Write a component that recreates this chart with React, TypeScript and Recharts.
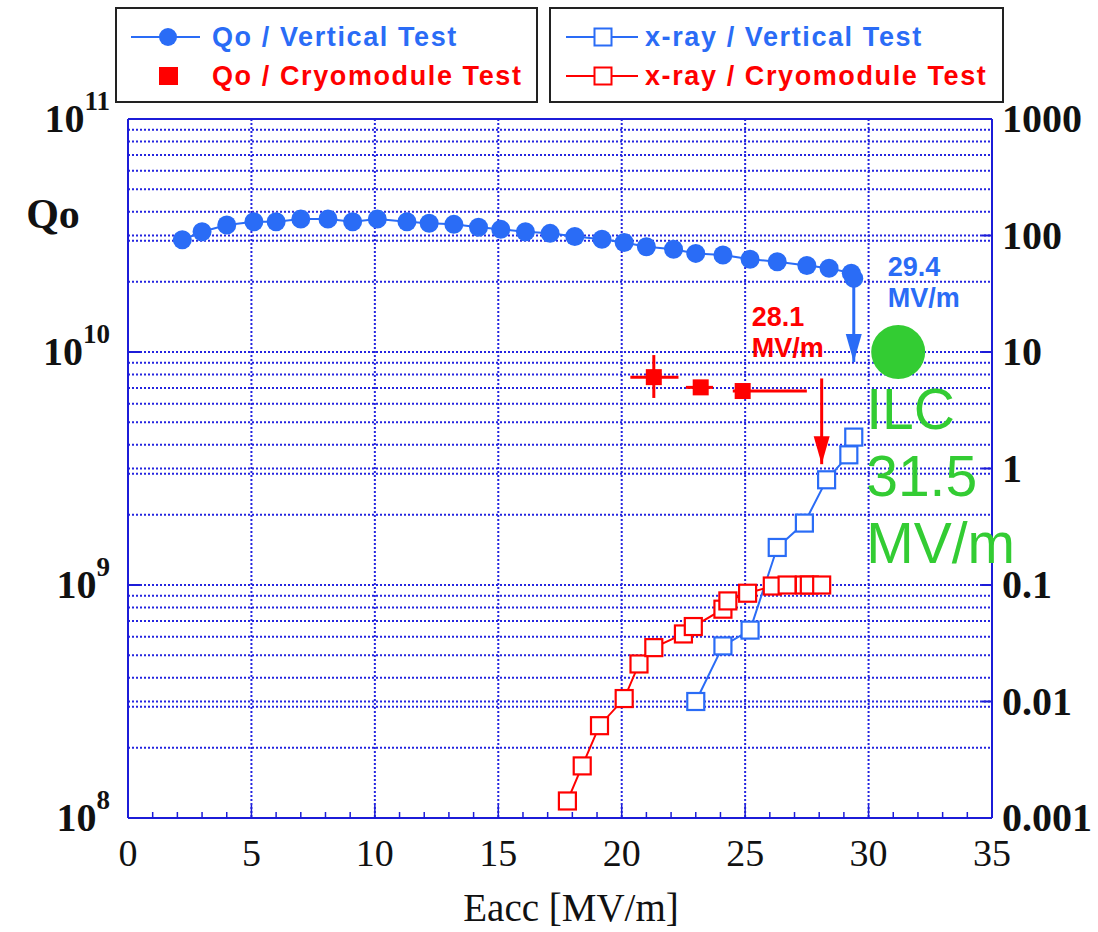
import React from 'react';
import {
  ComposedChart, Line, Scatter, XAxis, YAxis, CartesianGrid, ReferenceLine, ReferenceDot, ErrorBar, Label,
} from 'recharts';

const BLUE = '#2a6cf6';
const RED = '#ff0000';
const GREEN = '#33cc33';
const FRAME = '#1c1cd8';
const GRID = '#2424e0';
const SERIF = "'Liberation Serif', 'Times New Roman', serif";
const SANS = "'Liberation Sans', Arial, sans-serif";

// Qo / Vertical Test (left axis)
const qoVertE = [2.2, 3.0, 4.0, 5.1, 6.0, 7.0, 8.1, 9.1, 10.1, 11.3, 12.2, 13.2, 14.2, 15.1, 16.1, 17.1, 18.1, 19.2, 20.1, 21.0, 22.1, 23.0, 24.1, 25.2, 26.3, 27.5, 28.4, 29.3, 29.4];
const qoVertQ = [3.03e10, 3.28e10, 3.51e10, 3.62e10, 3.62e10, 3.72e10, 3.72e10, 3.62e10, 3.72e10, 3.62e10, 3.57e10, 3.53e10, 3.43e10, 3.36e10, 3.28e10, 3.23e10, 3.13e10, 3.05e10, 2.95e10, 2.83e10, 2.76e10, 2.65e10, 2.61e10, 2.5e10, 2.44e10, 2.35e10, 2.29e10, 2.18e10, 2.07e10];

// Qo / Cryomodule Test (left axis), with error bars
const qoCryoE = [21.3, 23.2, 24.9];
const qoCryoQ = [7.8e9, 7.05e9, 6.8e9];
const qoCryoErrE = [[0.95, 1.0], [0.6, 0.5], [0.4, 2.6]];
const qoCryoErrQ = [[1.45e9, 1.9e9], [0, 0], [0, 0]];

// x-ray / Vertical Test (right axis)
const xrVertE = [23.0, 24.1, 25.2, 26.3, 27.4, 28.3, 29.2, 29.4];
const xrVertDose = [0.01, 0.03, 0.041, 0.21, 0.34, 0.8, 1.31, 1.86];

// x-ray / Cryomodule Test (right axis)
const xrCryoE = [17.8, 18.4, 19.1, 20.1, 20.7, 21.3, 22.5, 22.9, 24.1, 24.3, 25.1, 26.1, 26.7, 27.4, 27.6, 28.1];
const xrCryoDose = [0.0014, 0.0028, 0.0062, 0.0106, 0.021, 0.029, 0.038, 0.044, 0.062, 0.073, 0.085, 0.098, 0.1, 0.1, 0.1, 0.1];

// annotations
const vertLimit = { e: 29.4, from: 2.07e10, to: 9.06e9, lines: ['29.4', 'MV/m'] };
const cryoLimit = { e: 28.1, from: 7.7e9, to: 3.3e9, lines: ['28.1', 'MV/m'] };
const ilcGoal = { e: 31.2, q: 1e10, lines: ['ILC', '31.5', 'MV/m'] };

// ticks / grid
const eTicks = Array.from({ length: 36 }, (_, i) => i);
const eGridValues = [5, 10, 15, 20, 25, 30];
const qoTicks = [1e8, 1e9, 1e10, 1e11];
const qoGridValues = [1e8, 1e9, 1e10].flatMap(d => [1, 2, 3, 4, 5, 6, 7, 8, 9].map(k => k * d)).filter(v => v > 1e8);
const doseTicks = [0.001, 0.01, 0.1, 1, 10, 100, 1000];
const doseGridValues = [0.01, 1, 100];

const qoVert = qoVertE.map((x, i) => ({ x, y: qoVertQ[i] }));
const qoCryo = qoCryoE.map((x, i) => ({ x, y: qoCryoQ[i], ex: qoCryoErrE[i], ey: qoCryoErrQ[i] }));
const xrVert = xrVertE.map((x, i) => ({ x, y: xrVertDose[i] }));
const xrCryo = xrCryoE.map((x, i) => ({ x, y: xrCryoDose[i] }));

const ETick = (p: any) => {
  const v = p.payload.value;
  const major = v % 5 === 0;
  return (
    <g>
      <line x1={p.x} x2={p.x} y1={p.y} y2={p.y - (major ? 13 : 6)} stroke={FRAME} strokeWidth={1.5} />
      {major && (
        <text x={p.x} y={p.y + 48} textAnchor="middle" fontFamily={SERIF} fontSize={38} fill="#111">{v}</text>
      )}
    </g>
  );
};

const QoTick = (p: any) => {
  const exp = Math.round(Math.log10(p.payload.value));
  return (
    <g>
      <line x1={p.x} x2={p.x + 12} y1={p.y} y2={p.y} stroke={FRAME} strokeWidth={2} />
      <text x={p.x - 18} y={p.y + 13} textAnchor="end" fontFamily={SERIF} fontWeight="bold" fontSize={40} fill="#111">
        10<tspan dy={-22} fontSize={27}>{exp}</tspan>
      </text>
    </g>
  );
};

const DoseTick = (p: any) => (
  <g>
    <line x1={p.x} x2={p.x - 10} y1={p.y} y2={p.y} stroke={FRAME} strokeWidth={2} />
    <text x={p.x + 10} y={p.y + 13} fontFamily={SERIF} fontWeight="bold" fontSize={40} fill="#111">{String(p.payload.value)}</text>
  </g>
);

const qoDot = (p: any) => <circle key={`qv-${p.index}`} cx={p.cx} cy={p.cy} r={9.5} fill={BLUE} />;
const openSquare = (color: string, tag: string) => (p: any) => (
  <rect key={`${tag}-${p.index}`} x={p.cx - 8.5} y={p.cy - 8.5} width={17} height={17} fill="#fff" stroke={color} strokeWidth={2.2} />
);
const cryoSquare = (p: any) => <rect x={p.cx - 8} y={p.cy - 8} width={16} height={16} fill={RED} />;

const arrowHead = (color: string) => (p: any) => (
  <polygon points={`${p.cx - 8},${p.cy - 28} ${p.cx + 8},${p.cy - 28} ${p.cx},${p.cy}`} fill={color} />
);

const limitText = (color: string, lines: string[], dx: number, dy: number) => (p: any) => (
  <text x={p.cx + dx} y={p.cy + dy} fill={color} fontFamily={SANS} fontWeight="bold" fontSize={27}>
    <tspan x={p.cx + dx}>{lines[0]}</tspan>
    <tspan x={p.cx + dx} dy={31}>{lines[1]}</tspan>
  </text>
);

const ilcShape = (p: any) => (
  <g>
    <circle cx={p.cx} cy={p.cy} r={27} fill={GREEN} />
    <text fill={GREEN} fontFamily={SANS} fontSize={57}>
      {ilcGoal.lines.map((t, i) => (
        <tspan key={t} x={p.cx - 32} y={p.cy + 77 + i * 67}>{t}</tspan>
      ))}
    </text>
  </g>
);

const eTitle = (p: any) => {
  const vb = p.viewBox;
  return (
    <text x={vb.x + vb.width / 2 + 11} y={vb.y + 103} textAnchor="middle" fontFamily={SERIF} fontSize={39} fill="#111">
      Eacc [MV/m]
    </text>
  );
};

const qoTitle = (p: any) => {
  const vb = p.viewBox;
  return (
    <text x={vb.x + 35} y={vb.y + 109} textAnchor="middle" fontFamily={SERIF} fontWeight="bold" fontSize={42} fill="#111">
      Qo
    </text>
  );
};

const LegendBoxes = () => (
  <svg width={1098} height={110} style={{ position: 'absolute', left: 0, top: 0 }}>
    <g fontFamily={SANS} fontWeight="bold" fontSize={27} letterSpacing={1.6}>
      <rect x={116} y={8} width={421} height={94} fill="#fff" stroke="#222" strokeWidth={2} />
      <line x1={131} x2={200} y1={37} y2={37} stroke={BLUE} strokeWidth={2} />
      <circle cx={168} cy={37} r={9} fill={BLUE} />
      <text x={212} y={46} fill={BLUE}>Qo / Vertical Test</text>
      <rect x={159} y={67} width={19} height={18} fill={RED} />
      <text x={212} y={85} fill={RED}>Qo / Cryomodule Test</text>

      <rect x={550} y={8} width={453} height={94} fill="#fff" stroke="#222" strokeWidth={2} />
      <line x1={566} x2={638} y1={37} y2={37} stroke={BLUE} strokeWidth={2} />
      <rect x={594.5} y={28.5} width={17} height={17} fill="#fff" stroke={BLUE} strokeWidth={2} />
      <text x={645} y={46} fill={BLUE}>x-ray / Vertical Test</text>
      <line x1={566} x2={638} y1={76} y2={76} stroke={RED} strokeWidth={2} />
      <rect x={594.5} y={67.5} width={17} height={17} fill="#fff" stroke={RED} strokeWidth={2} />
      <text x={645} y={85} fill={RED}>x-ray / Cryomodule Test</text>
    </g>
  </svg>
);

const App: React.FC = () => {
  const frame = { stroke: FRAME, strokeWidth: 2 };
  return (
    <div style={{ position: 'relative', width: 1098, height: 932, background: '#fff' }}>
      <style>{'body{margin:0;overflow:hidden;}'}</style>
      <ComposedChart width={1098} height={932} margin={{ top: 119, right: 6, bottom: 14, left: 18 }}>
        <CartesianGrid yAxisId="left" horizontalValues={qoGridValues} verticalValues={eGridValues}
          stroke={GRID} strokeDasharray="2 2" strokeWidth={2} />
        <CartesianGrid yAxisId="right" vertical={false} horizontalValues={doseGridValues}
          stroke={GRID} strokeDasharray="2 2" strokeWidth={2} />

        <XAxis type="number" dataKey="x" domain={[0, 35]} ticks={eTicks} interval={0} allowDataOverflow
          tick={ETick} tickLine={false} tickSize={0} tickMargin={0} axisLine={frame} height={100}>
          <Label content={eTitle} />
        </XAxis>
        <YAxis yAxisId="left" type="number" dataKey="y" scale="log" domain={[1e8, 1e11]} ticks={qoTicks} interval={0}
          allowDataOverflow tick={QoTick} tickLine={false} tickSize={0} tickMargin={0} axisLine={frame} width={110}>
          <Label content={qoTitle} />
        </YAxis>
        <YAxis yAxisId="right" orientation="right" type="number" dataKey="y" scale="log" domain={[0.001, 1000]}
          ticks={doseTicks} interval={0} allowDataOverflow tick={DoseTick} tickLine={false} tickSize={0} tickMargin={0}
          axisLine={frame} width={100} />

        <ReferenceLine yAxisId="left" y={1e11} stroke={FRAME} strokeWidth={2} />

        <Line yAxisId="right" data={xrVert} dataKey="y" type="linear" stroke={BLUE} strokeWidth={2}
          dot={openSquare(BLUE, 'xv')} activeDot={false} isAnimationActive={false} />
        <Line yAxisId="right" data={xrCryo} dataKey="y" type="linear" stroke={RED} strokeWidth={2}
          dot={openSquare(RED, 'xc')} activeDot={false} isAnimationActive={false} />
        <Line yAxisId="left" data={qoVert} dataKey="y" type="linear" stroke={BLUE} strokeWidth={2}
          dot={qoDot} activeDot={false} isAnimationActive={false} />
        <Scatter yAxisId="left" data={qoCryo} dataKey="y" fill={RED} shape={cryoSquare} isAnimationActive={false}>
          <ErrorBar dataKey="ex" direction="x" width={0} stroke={RED} strokeWidth={3} isAnimationActive={false} />
          <ErrorBar dataKey="ey" direction="y" width={0} stroke={RED} strokeWidth={3} isAnimationActive={false} />
        </Scatter>

        <ReferenceLine yAxisId="left" segment={[{ x: vertLimit.e, y: vertLimit.from }, { x: vertLimit.e, y: vertLimit.to }]}
          stroke={BLUE} strokeWidth={3} />
        <ReferenceDot yAxisId="left" x={vertLimit.e} y={vertLimit.to} r={0} shape={arrowHead(BLUE)} />
        <ReferenceDot yAxisId="left" x={vertLimit.e} y={vertLimit.from} r={0} shape={limitText(BLUE, vertLimit.lines, 34, -2)} />

        <ReferenceLine yAxisId="left" segment={[{ x: cryoLimit.e, y: cryoLimit.from }, { x: cryoLimit.e, y: cryoLimit.to }]}
          stroke={RED} strokeWidth={3} />
        <ReferenceDot yAxisId="left" x={cryoLimit.e} y={cryoLimit.to} r={0} shape={arrowHead(RED)} />
        <ReferenceDot yAxisId="left" x={cryoLimit.e} y={cryoLimit.from} r={0} shape={limitText(RED, cryoLimit.lines, -70, -52)} />

        <ReferenceDot yAxisId="left" x={ilcGoal.e} y={ilcGoal.q} r={27} shape={ilcShape} />
      </ComposedChart>
      <LegendBoxes />
    </div>
  );
};

export default App;
